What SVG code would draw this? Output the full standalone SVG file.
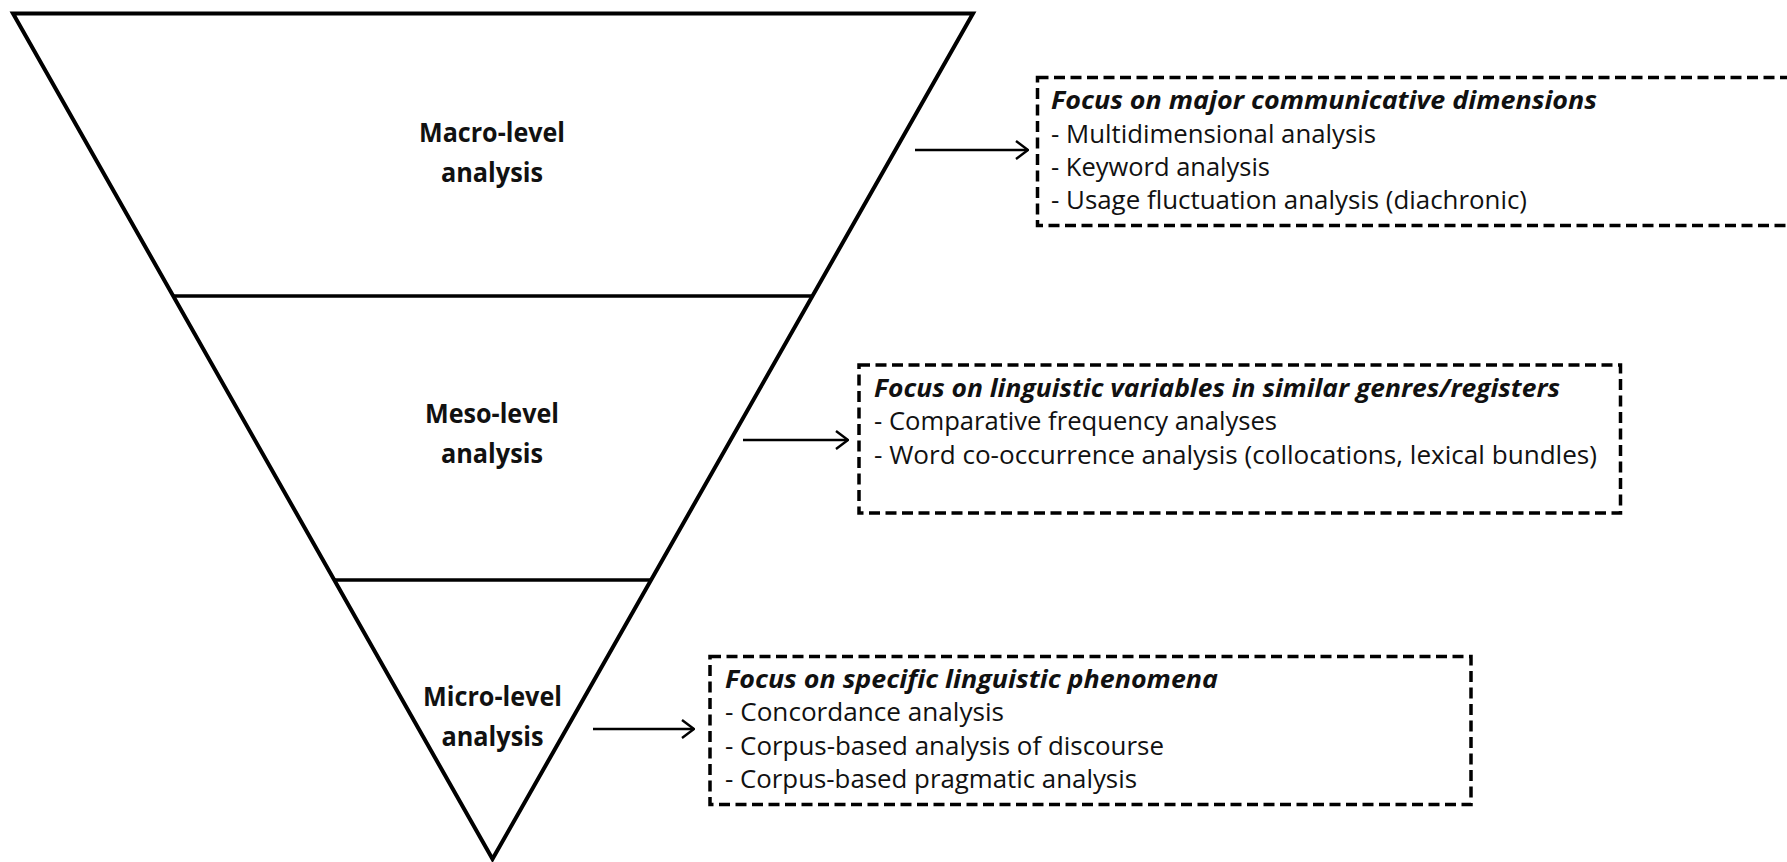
<svg xmlns="http://www.w3.org/2000/svg" width="1787" height="862" viewBox="0 0 1787 862">
<defs>
<style>
.tri{fill:none;stroke:#000;stroke-width:4;stroke-linejoin:miter}
.div{stroke:#000;stroke-width:3.6}
.lbl{font-family:"Open Sans","Liberation Sans",sans-serif;font-weight:bold;font-size:26px;fill:#111;text-anchor:middle}
.box{fill:none;stroke:#000;stroke-width:3.5;stroke-dasharray:11 5.5}
.ttl{font-family:"Open Sans","Liberation Sans",sans-serif;font-weight:bold;font-style:italic;font-size:25px;fill:#111}
.itm{font-family:"Open Sans","Liberation Sans",sans-serif;font-size:25px;fill:#111}
.arr{fill:none;stroke:#000;stroke-width:2.4}
</style>
<marker id="ah" viewBox="0 0 14 20" refX="13" refY="10" markerWidth="14" markerHeight="20" markerUnits="userSpaceOnUse" orient="auto">
<path d="M1,1 L13,10 L1,19" fill="none" stroke="#000" stroke-width="2.4"/>
</marker>
</defs>
<rect width="1787" height="862" fill="#fff"/>
<g id="pyramid">
<path class="tri" d="M13,13.5 L973,13.5 L492.5,859 Z"/>
<line class="div" x1="172" y1="296" x2="812" y2="296"/>
<line class="div" x1="333" y1="580" x2="652" y2="580"/>
</g>
<g id="macro">
<text class="lbl" x="492" y="142" textLength="146" lengthAdjust="spacingAndGlyphs">Macro-level</text>
<text class="lbl" x="492" y="182" textLength="102" lengthAdjust="spacingAndGlyphs">analysis</text>
</g>
<g id="meso">
<text class="lbl" x="492" y="423" textLength="134" lengthAdjust="spacingAndGlyphs">Meso-level</text>
<text class="lbl" x="492" y="463" textLength="102" lengthAdjust="spacingAndGlyphs">analysis</text>
</g>
<g id="micro">
<text class="lbl" x="492.5" y="706" textLength="139" lengthAdjust="spacingAndGlyphs">Micro-level</text>
<text class="lbl" x="492.5" y="746" textLength="102" lengthAdjust="spacingAndGlyphs">analysis</text>
</g>
<g id="box-macro">
<rect class="box" x="1037.5" y="77.5" width="762" height="148"/>
<text class="ttl" x="1051" y="109" textLength="546" lengthAdjust="spacingAndGlyphs">Focus on major communicative dimensions</text>
<text class="itm" x="1051" y="142.5" textLength="325" lengthAdjust="spacingAndGlyphs">- Multidimensional analysis</text>
<text class="itm" x="1051" y="176" textLength="219" lengthAdjust="spacingAndGlyphs">- Keyword analysis</text>
<text class="itm" x="1051" y="208.5" textLength="476" lengthAdjust="spacingAndGlyphs">- Usage fluctuation analysis (diachronic)</text>
</g>
<g id="box-meso">
<rect class="box" x="859" y="365" width="761.5" height="148"/>
<text class="ttl" x="874" y="396.5" textLength="686" lengthAdjust="spacingAndGlyphs">Focus on linguistic variables in similar genres/registers</text>
<text class="itm" x="874" y="430" textLength="403" lengthAdjust="spacingAndGlyphs">- Comparative frequency analyses</text>
<text class="itm" x="874" y="463.5" textLength="723" lengthAdjust="spacingAndGlyphs">- Word co-occurrence analysis (collocations, lexical bundles)</text>
</g>
<g id="box-micro">
<rect class="box" x="710" y="656.5" width="761" height="148"/>
<text class="ttl" x="725" y="687.5" textLength="493" lengthAdjust="spacingAndGlyphs">Focus on specific linguistic phenomena</text>
<text class="itm" x="725" y="721" textLength="279" lengthAdjust="spacingAndGlyphs">- Concordance analysis</text>
<text class="itm" x="725" y="754.5" textLength="439" lengthAdjust="spacingAndGlyphs">- Corpus-based analysis of discourse</text>
<text class="itm" x="725" y="787.5" textLength="412" lengthAdjust="spacingAndGlyphs">- Corpus-based pragmatic analysis</text>
</g>
<g id="connectors">
<line class="arr" x1="915" y1="150" x2="1028" y2="150" marker-end="url(#ah)"/>
<line class="arr" x1="743" y1="440" x2="848" y2="440" marker-end="url(#ah)"/>
<line class="arr" x1="593" y1="729" x2="694" y2="729" marker-end="url(#ah)"/>
</g>
</svg>
